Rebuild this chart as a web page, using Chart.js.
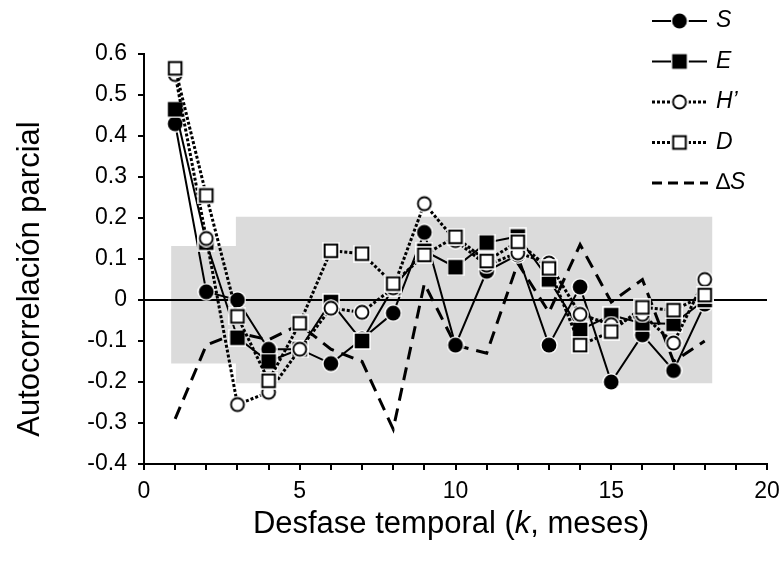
<!DOCTYPE html>
<html>
<head>
<meta charset="utf-8">
<script src="https://cdn.jsdelivr.net/npm/chart.js@4/dist/chart.umd.min.js"></script>
<style>
  html, body { margin: 0; padding: 0; background: #fff; }
  #wrap { width: 781px; height: 561px; }
</style>
</head>
<body>
<div id="wrap"><canvas id="c"></canvas></div>
<script>
// desfases (meses) y autocorrelaciones parciales
const lags = [1, 2, 3, 4, 5, 6, 7, 8, 9, 10, 11, 12, 13, 14, 15, 16, 17, 18];
const serieS  = [0.43, 0.02, 0.0, -0.12, -0.12, -0.155, -0.095, -0.032, 0.165, -0.11, 0.07, 0.11, -0.11, 0.032, -0.2, -0.085, -0.172, -0.01];
const serieE  = [0.465, 0.14, -0.092, -0.15, -0.12, -0.005, -0.1, 0.03, 0.12, 0.08, 0.14, 0.155, 0.05, -0.073, -0.037, -0.057, -0.058, 0.0];
const serieH  = [0.55, 0.15, -0.255, -0.225, -0.12, -0.02, -0.03, 0.03, 0.235, 0.145, 0.085, 0.115, 0.09, -0.035, -0.06, -0.035, -0.105, 0.05];
const serieD  = [0.565, 0.255, -0.04, -0.197, -0.057, 0.12, 0.113, 0.04, 0.11, 0.154, 0.095, 0.142, 0.077, -0.11, -0.077, -0.018, -0.025, 0.012];
const serieDS = [-0.29, -0.11, -0.08, -0.097, -0.06, -0.12, -0.15, -0.315, 0.04, -0.11, -0.13, 0.09, -0.03, 0.135, -0.005, 0.05, -0.15, -0.1];

// banda de significación (gris)
const bandX     = [0.87, 2.95, 2.95, 18.25];
const bandUpper = [0.132, 0.132, 0.203, 0.203];
const bandLower = [-0.155, -0.155, -0.203, -0.203];
const zeroX = [0, 20];
const zeroY = [0, 0];

const xTicksMin = 0, xTicksMax = 20;
const yTicksMin = -0.4, yTicksMax = 0.6;

const FONT = '"Liberation Sans", Arial, sans-serif';

function marker(shape, filled) {
  const s = 18, m = s / 2;
  const c = document.createElement('canvas');
  c.width = s; c.height = s;
  const g = c.getContext('2d');
  if (shape === 'circle') {
    const dot = (r, col) => { g.fillStyle = col; g.beginPath(); g.arc(m, m, r, 0, Math.PI * 2); g.fill(); };
    dot(8.8, '#fff');
    dot(7.4, '#000');
    if (!filled) dot(5.5, '#fff');
  } else {
    const sq = (h, col) => { g.fillStyle = col; g.fillRect(m - h, m - h, 2 * h, 2 * h); };
    sq(8.8, '#fff');
    sq(7.3, '#000');
    if (!filled) sq(5.3, '#fff');
  }
  return c;
}
const mkS = marker('circle', true), mkE = marker('rect', true);
const mkH = marker('circle', false), mkD = marker('rect', false);

const pts = (xs, ys) => xs.map((x, i) => ({ x, y: ys[i] }));

function serie(label, ys, img, dash, width, order) {
  return {
    label, data: pts(lags, ys), order,
    borderColor: '#000', borderWidth: width, borderDash: dash, borderCapStyle: 'butt',
    pointStyle: img, pointRadius: img ? 7 : 0, pointHoverRadius: img ? 7 : 0,
    fill: false, tension: 0,
  };
}

const legendItems = [
  { label: 'S', img: mkS, dash: [], width: 2 },
  { label: 'E', img: mkE, dash: [], width: 2 },
  { label: 'H\u2019', img: mkH, dash: [3, 2], width: 3 },
  { label: 'D', img: mkD, dash: [3, 2], width: 3 },
  { label: 'S', prefix: '\u2206', img: null, dash: [10, 6], width: 3 },
];

const textPlugin = {
  id: 'leyenda',
  afterDraw(chart) {
    const ctx = chart.ctx;
    ctx.save();
    legendItems.forEach((it, i) => {
      const y = 21 + i * 40.5;
      ctx.strokeStyle = '#000';
      ctx.lineWidth = it.width;
      ctx.setLineDash(it.dash);
      ctx.beginPath();
      if (it.img) {
        ctx.moveTo(652, y); ctx.lineTo(671, y);
        ctx.moveTo(688, y); ctx.lineTo(707, y);
      } else {
        ctx.moveTo(652, y); ctx.lineTo(708, y);
      }
      ctx.stroke();
      ctx.setLineDash([]);
      if (it.img) ctx.drawImage(it.img, 679.5 - it.img.width / 2, y - it.img.height / 2);
      ctx.fillStyle = '#000';
      ctx.textBaseline = 'middle';
      ctx.textAlign = 'left';
      let x = 716;
      if (it.prefix) {
        ctx.font = '23px ' + FONT;
        ctx.fillText(it.prefix, x, y);
        x += ctx.measureText(it.prefix).width;
      }
      ctx.font = 'italic 23px ' + FONT;
      ctx.fillText(it.label, x, y);
    });

    // título del eje x con k en cursiva
    ctx.fillStyle = '#000';
    ctx.textBaseline = 'middle';
    ctx.textAlign = 'left';
    const parts = [['Desfase temporal (', ''], ['k', 'italic '], [', meses)', '']];
    let total = 0;
    parts.forEach(p => { ctx.font = p[1] + '31px ' + FONT; total += ctx.measureText(p[0]).width; });
    let x = 451 - total / 2;
    parts.forEach(p => {
      ctx.font = p[1] + '31px ' + FONT;
      ctx.fillText(p[0], x, 524);
      x += ctx.measureText(p[0]).width;
    });

    // título del eje y
    ctx.translate(30, 279);
    ctx.rotate(-Math.PI / 2);
    ctx.textAlign = 'center';
    ctx.font = '31px ' + FONT;
    ctx.fillText('Autocorrelación parcial', 0, 0);
    ctx.restore();
  }
};

new Chart(document.getElementById('c'), {
  type: 'line',
  data: {
    datasets: [
      { label: 'banda sup', data: pts(bandX, bandUpper), order: 10, borderWidth: 0, borderColor: 'rgba(0,0,0,0)', pointRadius: 0, fill: false, tension: 0 },
      { label: 'banda inf', data: pts(bandX, bandLower), order: 9, borderWidth: 0, borderColor: 'rgba(0,0,0,0)', pointRadius: 0, fill: 0, backgroundColor: '#dbdbdb', tension: 0 },
      { label: 'cero', data: pts(zeroX, zeroY), order: 8, borderColor: '#000', borderWidth: 2, pointRadius: 0, fill: false },
      serie('\u2206S', serieDS, null, [13, 8], 3, 6),
      serie('S', serieS, mkS, [], 2, 5),
      serie('E', serieE, mkE, [], 2, 4),
      serie('H\u2019', serieH, mkH, [3, 2], 3, 3),
      serie('D', serieD, mkD, [3, 2], 3, 2),
    ],
  },
  options: {
    responsive: true, maintainAspectRatio: false, animation: false,
    layout: { padding: { top: 54, right: 14, left: 0, bottom: 0 } },
    plugins: { legend: { display: false }, tooltip: { enabled: false } },
    scales: {
      x: {
        type: 'linear', min: xTicksMin, max: xTicksMax,
        afterFit: s => { s.height = 97; s.paddingRight = 0; },
        border: { display: true, color: '#000', width: 2 },
        grid: { drawOnChartArea: false, drawTicks: true, tickLength: 6, color: '#000', lineWidth: 2 },
        ticks: {
          stepSize: 1, autoSkip: false, maxRotation: 0, padding: 8, color: '#000',
          font: { family: FONT, size: 23 },
          callback: v => (v % 5 === 0 ? String(v) : ''),
        },
      },
      y: {
        type: 'linear', min: yTicksMin, max: yTicksMax,
        afterFit: s => { s.width = 144; },
        border: { display: true, color: '#000', width: 2 },
        grid: { drawOnChartArea: false, drawTicks: true, tickLength: 6, color: '#000', lineWidth: 2 },
        ticks: {
          stepSize: 0.1, padding: 11, color: '#000',
          font: { family: FONT, size: 23 },
          callback: v => (Math.abs(v) < 1e-9 ? '0' : v.toFixed(1)),
        },
      },
    },
  },
  plugins: [textPlugin],
});
</script>
</body>
</html>
